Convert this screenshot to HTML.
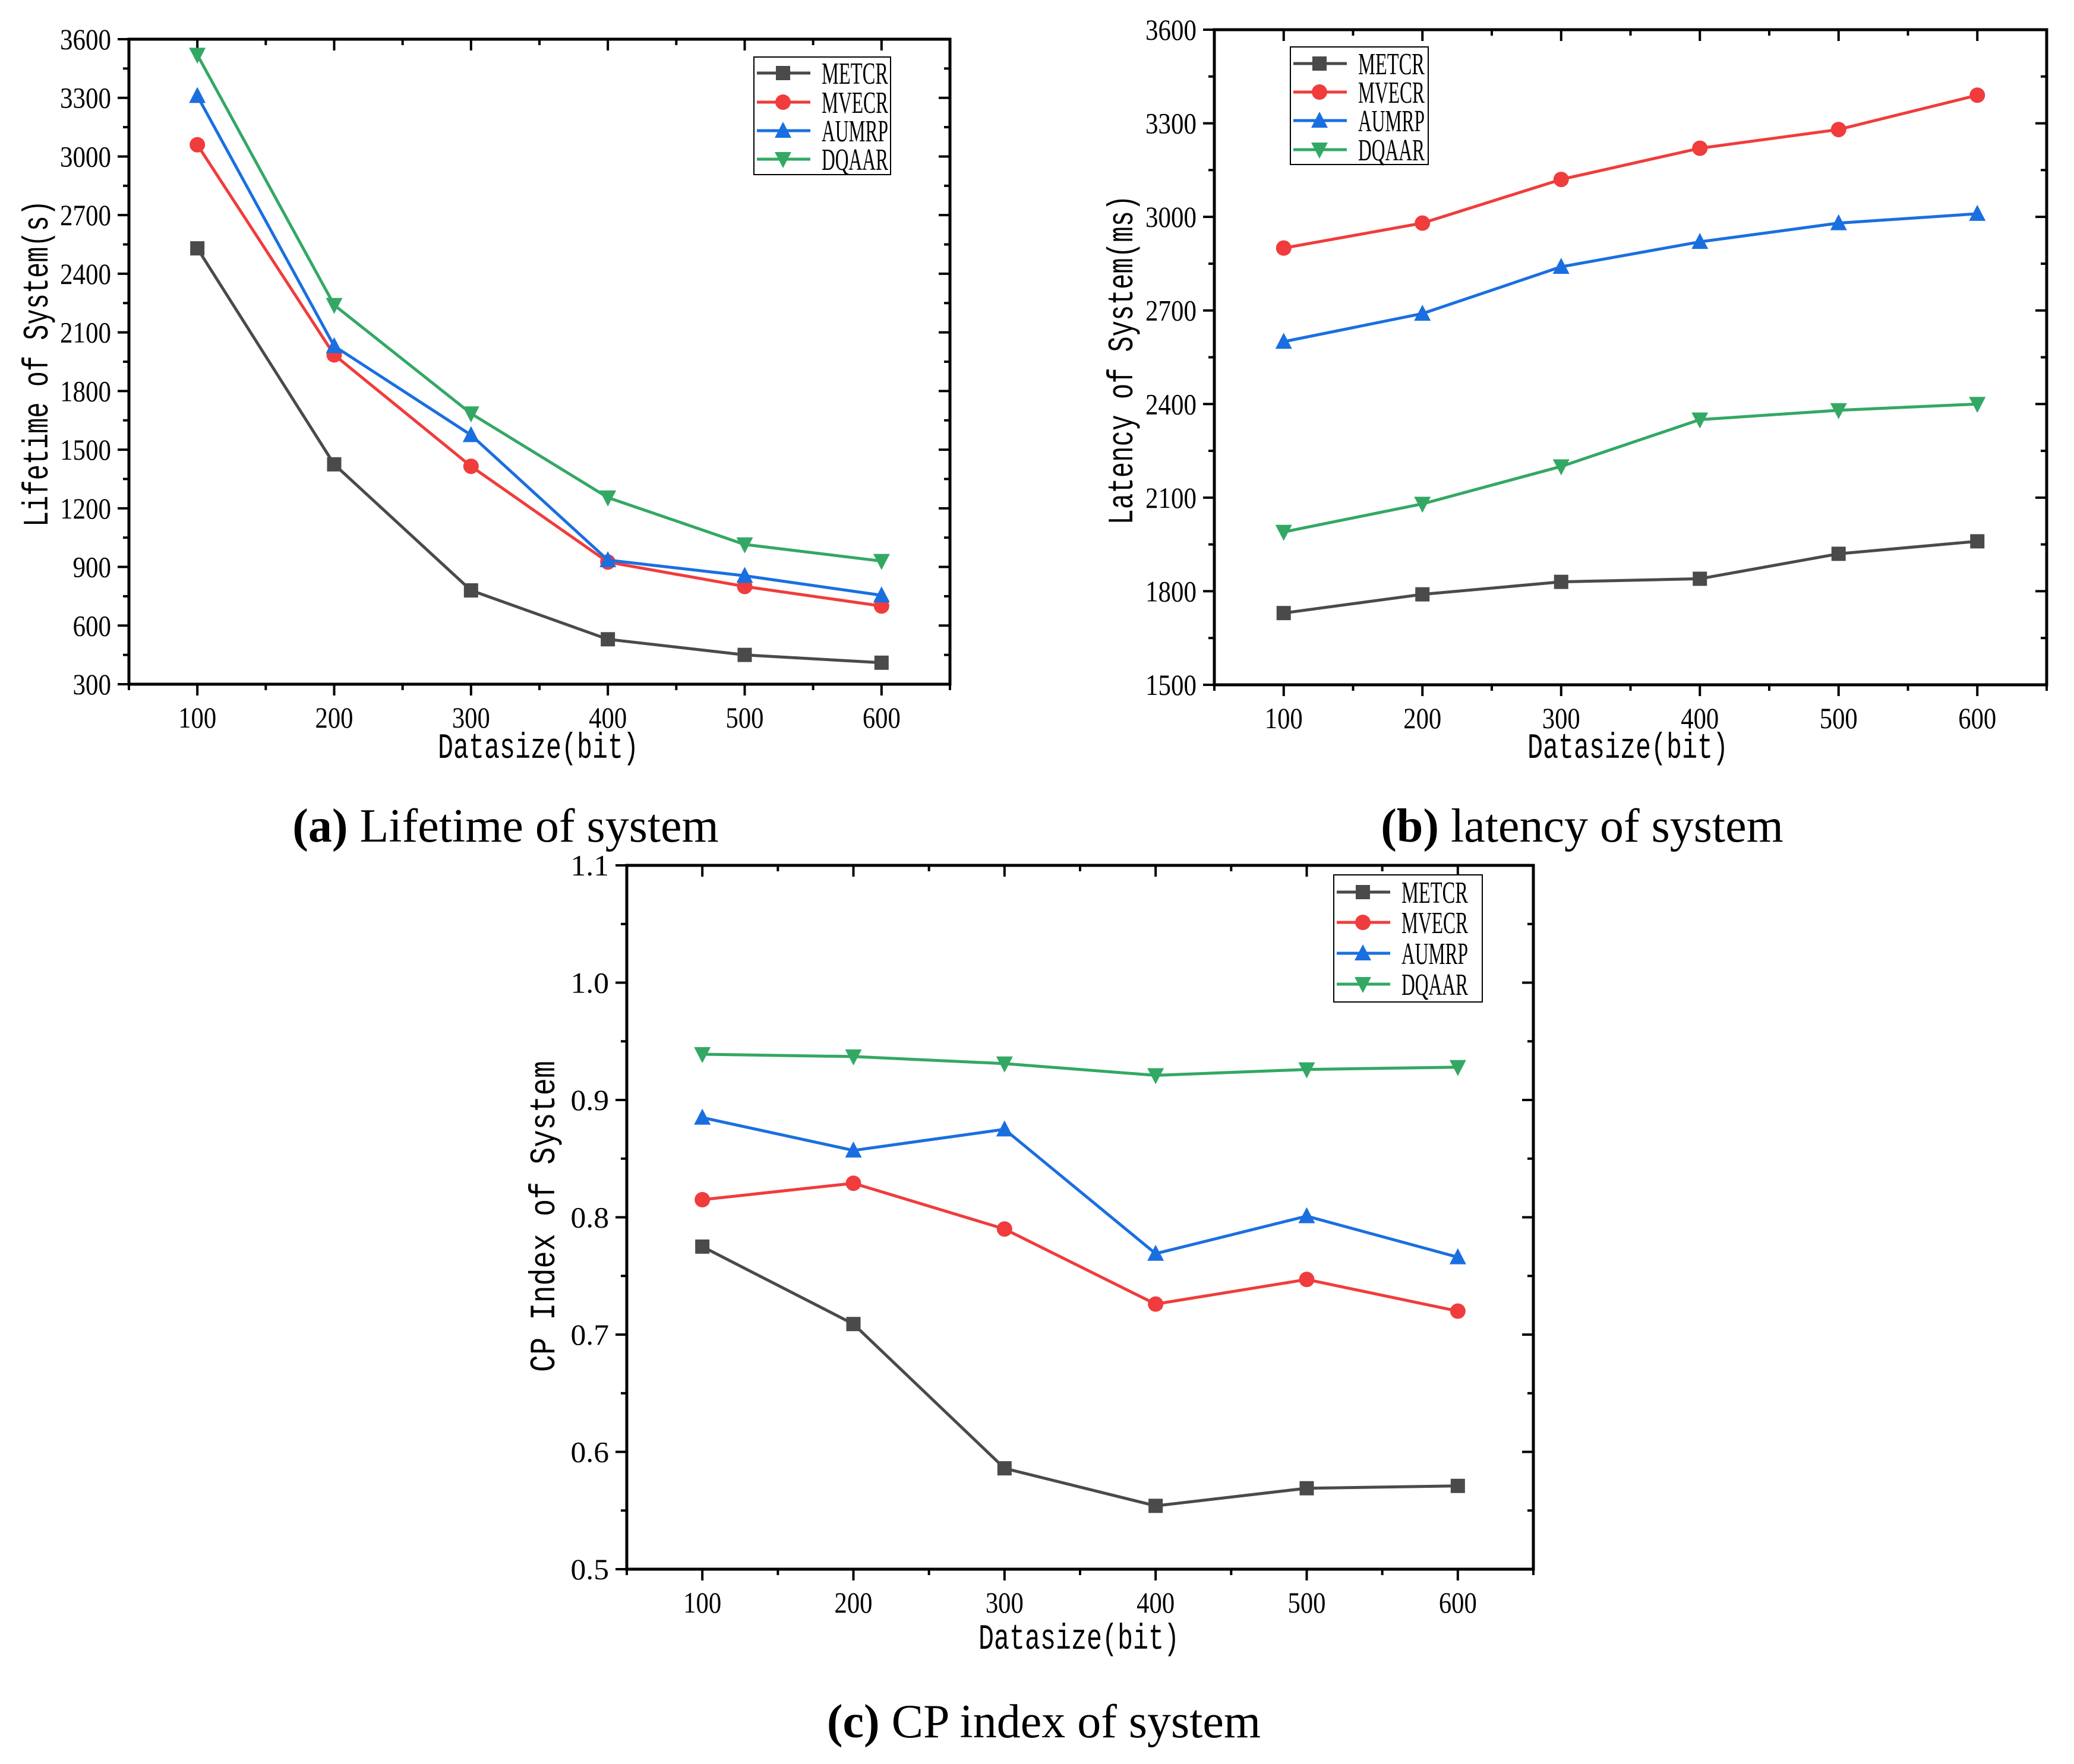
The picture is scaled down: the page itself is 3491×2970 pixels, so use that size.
<!DOCTYPE html>
<html><head><meta charset="utf-8"><style>
html,body{margin:0;padding:0;background:#fff;}
svg{display:block;}
text{font-family:"Liberation Serif","Noto Serif CJK SC",serif;fill:#000;}
.mono{font-family:"Liberation Mono","Noto Sans CJK SC",monospace;}
</style></head><body>
<svg id="fig" width="3491" height="2970" viewBox="0 0 3491 2970" xmlns="http://www.w3.org/2000/svg"></svg>
<script>
const xCats = [100, 200, 300, 400, 500, 600];
const seriesNames = ["METCR", "MVECR", "AUMRP", "DQAAR"];
// chart a
const aMETCR = [2530, 1425, 780, 530, 450, 410];
const aMVECR = [3060, 1985, 1415, 925, 800, 700];
const aAUMRP = [3310, 2030, 1575, 935, 855, 755];
const aDQAAR = [3520, 2240, 1685, 1255, 1015, 930];
const aTicks = ["300","600","900","1200","1500","1800","2100","2400","2700","3000","3300","3600"];
// chart b
const bMETCR = [1730, 1790, 1830, 1840, 1920, 1960];
const bMVECR = [2900, 2980, 3120, 3220, 3280, 3390];
const bAUMRP = [2600, 2690, 2840, 2920, 2980, 3010];
const bDQAAR = [1990, 2080, 2200, 2350, 2380, 2400];
const bTicks = ["1500","1800","2100","2400","2700","3000","3300","3600"];
// chart c
const cMETCR = [0.775, 0.709, 0.586, 0.554, 0.569, 0.571];
const cMVECR = [0.815, 0.829, 0.790, 0.726, 0.747, 0.720];
const cAUMRP = [0.885, 0.857, 0.875, 0.769, 0.801, 0.766];
const cDQAAR = [0.939, 0.937, 0.931, 0.921, 0.926, 0.928];
const cTicks = ["0.5","0.6","0.7","0.8","0.9","1.0","1.1"];

const colors = ["#4a4a4a", "#f03c3c", "#1a6fe0", "#33a864"];
const NS = "http://www.w3.org/2000/svg";
const svg = document.getElementById("fig");
function mk(tag, attrs, parent) {
  const e = document.createElementNS(NS, tag);
  for (const k in attrs) e.setAttribute(k, attrs[k]);
  (parent || svg).appendChild(e);
  return e;
}
function marker(g, kind, x, y, color) {
  let m;
  const s = 12;
  if (kind === 0) m = mk("rect", {x: x - s, y: y - s, width: 2 * s, height: 2 * s, fill: color}, g);
  else if (kind === 1) m = mk("circle", {cx: x, cy: y, r: s + 1, fill: color}, g);
  else if (kind === 2) m = mk("polygon", {points: `${x},${y - s - 3} ${x - s - 2},${y + s} ${x + s + 2},${y + s}`, fill: color}, g);
  else m = mk("polygon", {points: `${x},${y + s + 3} ${x - s - 2},${y - s} ${x + s + 2},${y - s}`, fill: color}, g);
  return m;
}
function chart(cfg) {
  const g = mk("g", {});
  
  
  const {L, R, T, B, ymin, ymax, ticks, series} = cfg;
  const xs = v => L + (v - 50) / 600 * (R - L);
  const ys = v => B - (v - ymin) / (ymax - ymin) * (B - T);
  const step = (ymax - ymin) / (ticks.length - 1);
  for (let i = 0; i < ticks.length; i++) {
    const v = ymin + i * step, y = ys(v);
    mk("line", {x1: L - 19, y1: y, x2: L, y2: y, stroke: "#000", "stroke-width": 4}, g);
    mk("line", {x1: R, y1: y, x2: R - 19, y2: y, stroke: "#000", "stroke-width": 4}, g);
    const t = mk("text", {x: L - 30, y: y + 17, "font-size": 50, "text-anchor": "end", textLength: ticks[i].length * 21.5, lengthAdjust: "spacingAndGlyphs"}, g);
    t.textContent = ticks[i];
    
    
    if (i < ticks.length - 1) {
      const ym = ys(v + step / 2);
      mk("line", {x1: L - 10, y1: ym, x2: L, y2: ym, stroke: "#000", "stroke-width": 4}, g);
      mk("line", {x1: R, y1: ym, x2: R - 10, y2: ym, stroke: "#000", "stroke-width": 4}, g);
    }
  }
  for (let v = 50; v <= 650; v += 50) {
    const x = xs(v), major = (v % 100 === 0);
    const len = major ? 19 : 10;
    mk("line", {x1: x, y1: B, x2: x, y2: B + len, stroke: "#000", "stroke-width": 4}, g);
    mk("line", {x1: x, y1: T, x2: x, y2: T + len, stroke: "#000", "stroke-width": 4}, g);
  }
  xCats.forEach(c => {
    const t = mk("text", {x: xs(c), y: B + 73, "font-size": 50, "text-anchor": "middle", textLength: 64, lengthAdjust: "spacingAndGlyphs"}, g);
    t.textContent = String(c);
    
    
  });
  const frame = mk("rect", {x: L, y: T, width: R - L, height: B - T, fill: "none", stroke: "#000", "stroke-width": 5}, g);
  
  
  series.forEach((vals, si) => {
    const sg = mk("g", {}, g);
    
    
    const pts = vals.map((v, i) => xs(xCats[i]) + "," + ys(v)).join(" ");
    mk("polyline", {points: pts, fill: "none", stroke: colors[si], "stroke-width": 5, "stroke-linejoin": "round"}, sg);
    vals.forEach((v, i) => {
      const m = marker(sg, si, xs(xCats[i]), ys(v), colors[si]);
      
      
    });
  });
  const xt = mk("text", {x: cfg.xlx, y: cfg.xly, "font-size": 60, "text-anchor": "middle", class: "mono", textLength: 338, lengthAdjust: "spacingAndGlyphs"}, g);
  xt.textContent = "Datasize(bit)";
  
  
  const yt = mk("text", {x: 0, y: 0, "font-size": 60, "text-anchor": "middle", class: "mono", textLength: cfg.ylen, lengthAdjust: "spacingAndGlyphs", transform: `translate(${cfg.ylx},${cfg.yly}) rotate(-90)`}, g);
  yt.textContent = cfg.ytitle;
  
  
  const lg = mk("g", {}, g);
  
  
  const lgd = cfg.leg;
  mk("rect", {x: lgd.x, y: lgd.y, width: lgd.w, height: lgd.h, fill: "#fff", stroke: "#000", "stroke-width": 2}, lg);
  seriesNames.forEach((n, si) => {
    const e = mk("g", {}, lg);
    
    
    const y = lgd.rows[si];
    mk("line", {x1: lgd.x + 5, y1: y, x2: lgd.x + 95, y2: y, stroke: colors[si], "stroke-width": 5}, e);
    marker(e, si, lgd.x + 49, y, colors[si]);
    const t = mk("text", {x: lgd.x + 114, y: y + 18, "font-size": 52, textLength: 112, lengthAdjust: "spacingAndGlyphs"}, e);
    t.textContent = n;
  });
  const cap = mk("text", {x: cfg.capx, y: cfg.capy, "font-size": 80, "text-anchor": "middle"}, g);
  
  
  const b = mk("tspan", {"font-weight": "bold"}, cap);
  b.textContent = cfg.capLetter;
  const r = mk("tspan", {}, cap);
  r.textContent = " " + cfg.capText;
}
chart({name: "chart-a-lifetime", L: 217, R: 1599, T: 66, B: 1152, ymin: 300, ymax: 3600, ticks: aTicks,
  series: [aMETCR, aMVECR, aAUMRP, aDQAAR], xlx: 906, xly: 1276, ylx: 80, yly: 612, ylen: 550,
  ytitle: "Lifetime of System(s)", leg: {x: 1269, y: 96, w: 230, h: 198, rows: [123, 172, 220, 268]},
  capx: 851, capy: 1417, capLetter: "(a)", capText: "Lifetime of system"});
chart({name: "chart-b-latency", L: 2044, R: 3445, T: 50, B: 1153, ymin: 1500, ymax: 3600, ticks: bTicks,
  series: [bMETCR, bMVECR, bAUMRP, bDQAAR], xlx: 2740, xly: 1276, ylx: 1906, yly: 606, ylen: 555,
  ytitle: "Latency of System(ms)", leg: {x: 2172, y: 79, w: 232, h: 198, rows: [107, 155, 203, 252]},
  capx: 2663, capy: 1417, capLetter: "(b)", capText: "latency of system"});
chart({name: "chart-c-cp-index", L: 1055, R: 2581, T: 1457, B: 2642, ymin: 0.5, ymax: 1.1, ticks: cTicks,
  series: [cMETCR, cMVECR, cAUMRP, cDQAAR], xlx: 1816, xly: 2776, ylx: 933, yly: 2048, ylen: 524,
  ytitle: "CP Index of System", leg: {x: 2245, y: 1473, w: 250, h: 214, rows: [1502, 1553, 1605, 1657]},
  capx: 1757, capy: 2925, capLetter: "(c)", capText: "CP index of system"});
</script>
</body></html>
